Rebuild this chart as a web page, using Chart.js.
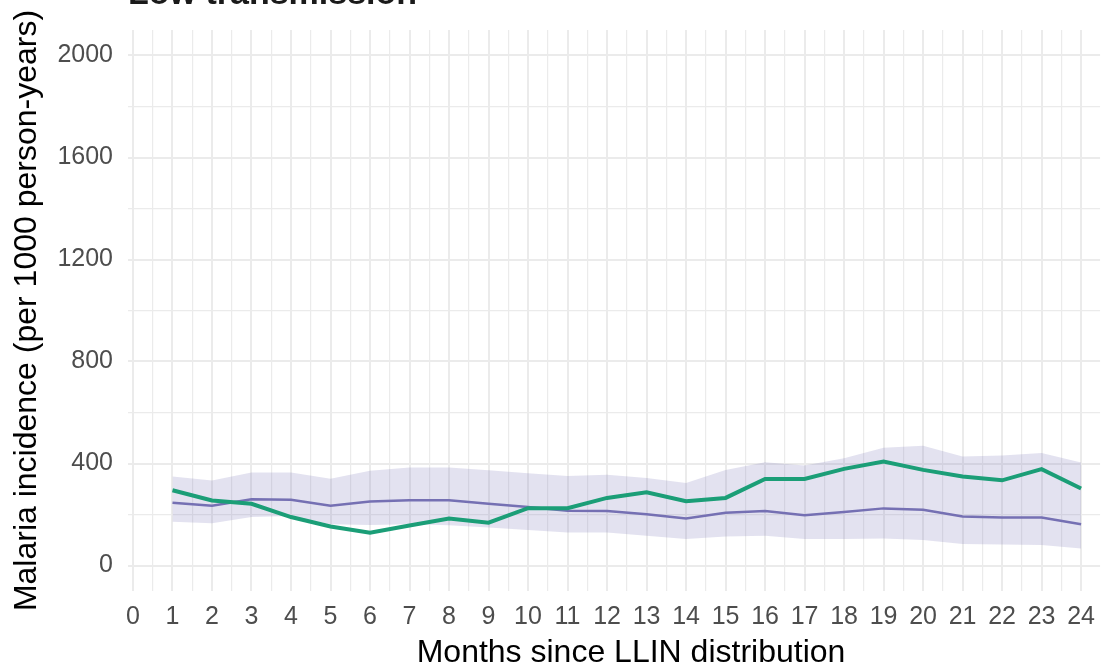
<!DOCTYPE html>
<html>
<head>
<meta charset="utf-8">
<script src="https://cdn.jsdelivr.net/npm/chart.js@4.4.0/dist/chart.umd.min.js"></script>
<style>
  html, body { margin: 0; padding: 0; background: #ffffff; }
  #wrap { position: relative; width: 1106px; height: 669px; }
</style>
</head>
<body>
<div id="wrap"><canvas id="incidenceChart"></canvas></div>
<script>
const months = [1, 2, 3, 4, 5, 6, 7, 8, 9, 10, 11, 12, 13, 14, 15, 16, 17, 18, 19, 20, 21, 22, 23, 24];
const observedIncidence = [295, 255, 242, 190, 153, 129, 157, 184, 168, 225, 225, 265, 287, 252, 265, 339, 339, 379, 408, 375, 349, 334, 378, 302];
const modelledIncidence = [246, 234, 260, 258, 234, 251, 256, 256, 242, 229, 215, 214, 201, 184, 207, 214, 197, 210, 224, 219, 192, 188, 188, 162];
const modelledUpper = [349, 333, 365, 365, 340, 372, 384, 384, 374, 362, 351, 356, 343, 324, 375, 405, 392, 421, 462, 470, 427, 431, 441, 404];
const modelledLower = [172, 166, 190, 194, 162, 159, 162, 158, 149, 139, 129, 129, 117, 104, 114, 117, 104, 104, 106, 100, 84, 82, 80, 67];
const xTicks = [];
for (let m = 0; m <= 24; m += 0.5) xTicks.push(m);
const yTicks = [0, 200, 400, 600, 800, 1000, 1200, 1400, 1600, 1800, 2000];

const FONT = "'Liberation Sans', Arial, sans-serif";
const pts = arr => months.map((m, i) => ({ x: m, y: arr[i] }));

// plot title is cut off at the top of the picture; x title is centred on the
// (wider, cropped) panel, so both are drawn here
const extraText = {
    id: 'extraText',
    afterDraw(chart) {
        const ctx = chart.ctx;
        ctx.save();
        ctx.font = 'bold 34px ' + FONT;
        ctx.fillStyle = '#1a1a1a';
        ctx.textAlign = 'left';
        ctx.textBaseline = 'alphabetic';
        ctx.fillText('Low transmission', 128, 4);

        ctx.font = '32px ' + FONT;
        ctx.fillStyle = '#000000';
        ctx.textAlign = 'center';
        ctx.textBaseline = 'middle';
        ctx.fillText('Months since LLIN distribution', 631, 653);
        ctx.restore();
    }
};

window.addEventListener('load', function () {
    const ctx = document.getElementById('incidenceChart').getContext('2d');
    new Chart(ctx, {
        type: 'line',
        data: {
            datasets: [{
                label: 'Observed',
                data: pts(observedIncidence),
                borderColor: '#1b9e77',
                borderWidth: 4,
                pointRadius: 0,
                fill: false,
                tension: 0
            }, {
                label: 'Modelled',
                data: pts(modelledIncidence),
                borderColor: '#7570b3',
                borderWidth: 2.5,
                pointRadius: 0,
                fill: false,
                tension: 0
            }, {
                label: 'upper',
                data: pts(modelledUpper),
                borderWidth: 0,
                borderColor: 'rgba(0,0,0,0)',
                backgroundColor: 'rgba(117,112,179,0.2)',
                pointRadius: 0,
                fill: '+1'
            }, {
                label: 'lower',
                data: pts(modelledLower),
                borderWidth: 0,
                borderColor: 'rgba(0,0,0,0)',
                pointRadius: 0,
                fill: false
            }]
        },
        options: {
            responsive: true,
            maintainAspectRatio: false,
            animation: false,
            layout: { padding: { top: 23, right: 0, bottom: 0, left: 0 } },
            plugins: {
                legend: { display: false },
                tooltip: { enabled: false }
            },
            scales: {
                x: {
                    type: 'linear',
                    min: -0.126,
                    max: 24.48,
                    afterBuildTicks: scale => { scale.ticks = xTicks.map(v => ({ value: v })); },
                    afterFit: scale => { scale.height = 78; },
                    border: { display: false },
                    grid: {
                        color: '#ebebeb',
                        lineWidth: c => Number.isInteger(c.tick.value) ? 2 : 1.2,
                        drawTicks: false
                    },
                    ticks: {
                        autoSkip: false,
                        maxRotation: 0,
                        padding: 11,
                        color: '#4d4d4d',
                        font: { family: FONT, size: 25 },
                        callback: v => Number.isInteger(v) ? String(v) : ''
                    },
                    title: { display: false }
                },
                y: {
                    type: 'linear',
                    min: -100,
                    max: 2100,
                    afterBuildTicks: scale => { scale.ticks = yTicks.map(v => ({ value: v })); },
                    afterFit: scale => { scale.width = 128; },
                    border: { display: false },
                    grid: {
                        color: '#ebebeb',
                        lineWidth: c => c.tick.value % 400 === 0 ? 2 : 1.2,
                        drawTicks: false
                    },
                    ticks: {
                        padding: 15,
                        color: '#4d4d4d',
                        font: { family: FONT, size: 25 },
                        callback: v => v % 400 === 0 ? String(v) : ''
                    },
                    title: {
                        display: true,
                        text: 'Malaria incidence (per 1000 person-years)',
                        color: '#000000',
                        font: { family: FONT, size: 32, lineHeight: 1 },
                        padding: { top: 11, bottom: 0 }
                    }
                }
            }
        },
        plugins: [extraText]
    });
});
</script>
</body>
</html>
